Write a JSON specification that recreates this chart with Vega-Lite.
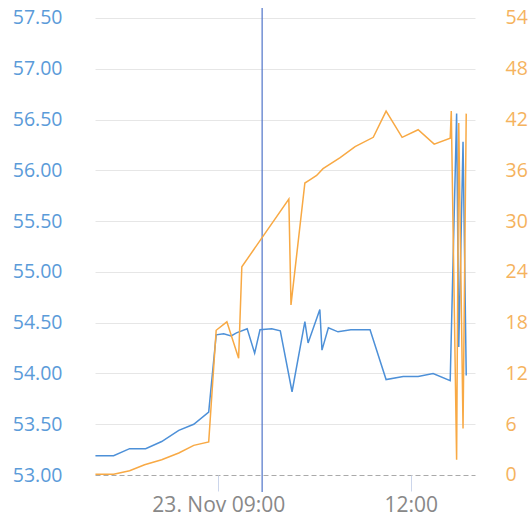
{
  "$schema": "https://vega.github.io/schema/vega-lite/v6.json",
  "width": 380,
  "height": 484,
  "autosize": {"type": "none"},
  "padding": {"left": 95, "top": 8, "right": 56, "bottom": 26},
  "background": "white",
  "config": {"view": {"stroke": null}, "font": "Open Sans"},
  "datasets": {
    "marker": [
      {"t": "2023-11-23T09:41"}
    ],
    "price": [
      {"t": "2023-11-23T07:05", "v": 53.19},
      {"t": "2023-11-23T07:22", "v": 53.19},
      {"t": "2023-11-23T07:37", "v": 53.26},
      {"t": "2023-11-23T07:52", "v": 53.26},
      {"t": "2023-11-23T08:07", "v": 53.33},
      {"t": "2023-11-23T08:23", "v": 53.44},
      {"t": "2023-11-23T08:37", "v": 53.50},
      {"t": "2023-11-23T08:51", "v": 53.62},
      {"t": "2023-11-23T08:58", "v": 54.38},
      {"t": "2023-11-23T09:05", "v": 54.39},
      {"t": "2023-11-23T09:12", "v": 54.37},
      {"t": "2023-11-23T09:17", "v": 54.40},
      {"t": "2023-11-23T09:27", "v": 54.44},
      {"t": "2023-11-23T09:34", "v": 54.20},
      {"t": "2023-11-23T09:39", "v": 54.43},
      {"t": "2023-11-23T09:50", "v": 54.44},
      {"t": "2023-11-23T09:58", "v": 54.42},
      {"t": "2023-11-23T10:09", "v": 53.82},
      {"t": "2023-11-23T10:21", "v": 54.51},
      {"t": "2023-11-23T10:24", "v": 54.30},
      {"t": "2023-11-23T10:35", "v": 54.63},
      {"t": "2023-11-23T10:37", "v": 54.23},
      {"t": "2023-11-23T10:43", "v": 54.45},
      {"t": "2023-11-23T10:52", "v": 54.41},
      {"t": "2023-11-23T11:04", "v": 54.43},
      {"t": "2023-11-23T11:22", "v": 54.43},
      {"t": "2023-11-23T11:37", "v": 53.94},
      {"t": "2023-11-23T11:53", "v": 53.97},
      {"t": "2023-11-23T12:07", "v": 53.97},
      {"t": "2023-11-23T12:21", "v": 54.00},
      {"t": "2023-11-23T12:37", "v": 53.93},
      {"t": "2023-11-23T12:43", "v": 56.56},
      {"t": "2023-11-23T12:45", "v": 54.26},
      {"t": "2023-11-23T12:49", "v": 56.28},
      {"t": "2023-11-23T12:52", "v": 53.98}
    ],
    "volume": [
      {"t": "2023-11-23T07:05", "v": 0.1},
      {"t": "2023-11-23T07:22", "v": 0.1},
      {"t": "2023-11-23T07:37", "v": 0.5},
      {"t": "2023-11-23T07:51", "v": 1.2},
      {"t": "2023-11-23T08:07", "v": 1.8},
      {"t": "2023-11-23T08:23", "v": 2.6},
      {"t": "2023-11-23T08:37", "v": 3.5},
      {"t": "2023-11-23T08:51", "v": 3.9},
      {"t": "2023-11-23T08:58", "v": 17.1},
      {"t": "2023-11-23T09:08", "v": 18.1},
      {"t": "2023-11-23T09:19", "v": 13.8},
      {"t": "2023-11-23T09:22", "v": 24.6},
      {"t": "2023-11-23T10:06", "v": 32.6},
      {"t": "2023-11-23T10:08", "v": 20.1},
      {"t": "2023-11-23T10:21", "v": 34.5},
      {"t": "2023-11-23T10:26", "v": 34.9},
      {"t": "2023-11-23T10:32", "v": 35.4},
      {"t": "2023-11-23T10:38", "v": 36.2},
      {"t": "2023-11-23T10:54", "v": 37.5},
      {"t": "2023-11-23T11:08", "v": 38.8},
      {"t": "2023-11-23T11:25", "v": 39.9},
      {"t": "2023-11-23T11:37", "v": 43.0},
      {"t": "2023-11-23T11:52", "v": 39.9},
      {"t": "2023-11-23T12:07", "v": 40.8},
      {"t": "2023-11-23T12:22", "v": 39.1},
      {"t": "2023-11-23T12:37", "v": 39.8},
      {"t": "2023-11-23T12:38", "v": 43.0},
      {"t": "2023-11-23T12:43", "v": 1.8},
      {"t": "2023-11-23T12:45", "v": 41.6},
      {"t": "2023-11-23T12:49", "v": 5.5},
      {"t": "2023-11-23T12:52", "v": 42.7}
    ]
  },
  "layer": [
    {
      "data": {"name": "marker"},
      "mark": {"type": "rule", "color": "#4f74c8", "strokeWidth": 1.2},
      "encoding": {
        "x": {"field": "t", "type": "temporal"}
      }
    },
    {
      "data": {"name": "price"},
      "mark": {"type": "line", "color": "#4d90d8", "strokeWidth": 1.5},
      "encoding": {
        "x": {
          "field": "t", "type": "temporal",
          "scale": {"domain": [
            {"year": 2023, "month": 11, "date": 23, "hours": 7, "minutes": 4, "seconds": 36},
            {"year": 2023, "month": 11, "date": 23, "hours": 13, "minutes": 0, "seconds": 12}
          ]},
          "axis": {
            "title": null,
            "orient": "bottom",
            "offset": -17,
            "domain": false,
            "grid": false,
            "values": [
              {"year": 2023, "month": 11, "date": 23, "hours": 9},
              {"year": 2023, "month": 11, "date": 23, "hours": 12}
            ],
            "labelExpr": "hours(datum.value) === 9 ? '23. Nov 09:00' : timeFormat(datum.value, '%H:%M')",
            "tickSize": 16,
            "tickColor": "#ccd6eb",
            "tickWidth": 1,
            "labelColor": "#888888",
            "labelFontSize": 21,
            "labelPadding": 3
          }
        },
        "y": {
          "field": "v", "type": "quantitative",
          "scale": {"domain": [52.833, 57.598], "nice": false, "zero": false},
          "axis": {
            "title": null,
            "orient": "left",
            "values": [53, 53.5, 54, 54.5, 55, 55.5, 56, 56.5, 57, 57.5],
            "format": ".2f",
            "domain": false,
            "ticks": false,
            "labelPadding": 33,
            "labelColor": "#5b9bd9",
            "labelFontSize": 19.5,
            "grid": true,
            "gridColor": {"condition": {"test": "datum.value === 53", "value": "#aaaaaa"}, "value": "#e6e6e6"},
            "gridDash": {"condition": {"test": "datum.value === 53", "value": [5, 3]}, "value": []},
            "gridWidth": 1
          }
        }
      }
    },
    {
      "data": {"name": "volume"},
      "mark": {"type": "line", "color": "#f8a944", "strokeWidth": 1.5},
      "encoding": {
        "x": {"field": "t", "type": "temporal"},
        "y": {
          "field": "v", "type": "quantitative",
          "scale": {"domain": [-2.01, 55.18], "nice": false, "zero": false},
          "axis": {
            "title": null,
            "orient": "right",
            "values": [0, 6, 12, 18, 24, 30, 36, 42, 48, 54],
            "domain": false,
            "ticks": false,
            "grid": false,
            "labelPadding": 30,
            "labelColor": "#f5b35e",
            "labelFontSize": 19.5
          }
        }
      }
    }
  ],
  "resolve": {"scale": {"y": "independent"}}
}
